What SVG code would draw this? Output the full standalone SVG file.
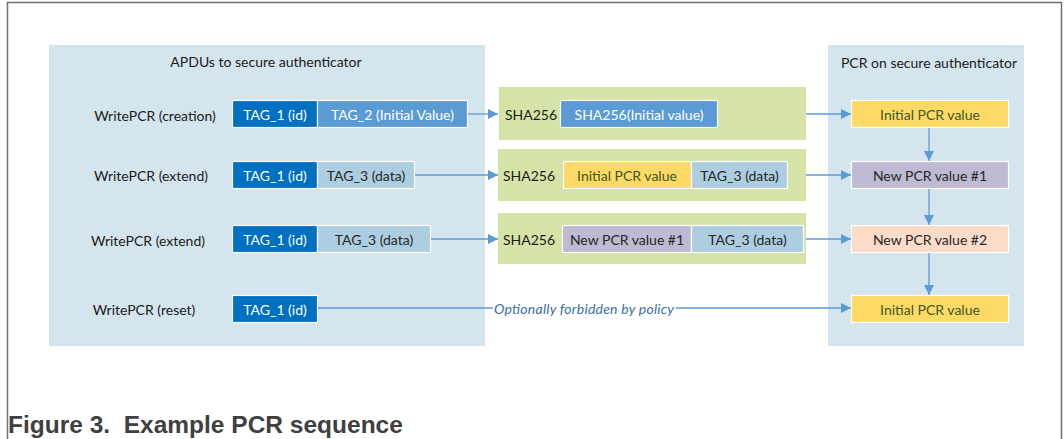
<svg xmlns="http://www.w3.org/2000/svg" width="1064" height="439" viewBox="0 0 1064 439">
  <style>
    text { font-family: Lato, "Open Sans", "Liberation Sans", sans-serif; font-size: 14px; dominant-baseline: central; }
    .panel { fill: #d5e5ee; }
    .hash { fill: #d6e3a6; }
    .cell { stroke: #ffffff; stroke-width: 1.2; }
    .id { fill: #0070c0; }
    .init { fill: #5b9bd5; }
    .data { fill: #adcde0; }
    .yellow { fill: #ffd966; }
    .purple { fill: #bfbad3; }
    .peach { fill: #fddbc9; }
    .w { fill: #ffffff; text-anchor: middle; }
    .d { fill: #262626; text-anchor: middle; }
    .g { fill: #3b5a1e; text-anchor: middle; }
    .lbl { fill: #1a1a1a; text-anchor: middle; }
    .conn { stroke: #5b9bd5; stroke-width: 1.3; fill: none; }
    .note { fill: #3b6ea5; font-style: italic; text-anchor: middle; }
    .cap { font-family: "Liberation Sans", Arial, sans-serif; font-weight: bold; font-size: 24.5px; fill: #404040; dominant-baseline: auto; }
  </style>
  <defs>
    <marker id="arr" viewBox="0 0 10 10" refX="10" refY="5" markerWidth="10" markerHeight="10" markerUnits="userSpaceOnUse" orient="auto">
      <path d="M0,0 L10,5 L0,10 z" fill="#5b9bd5"/>
    </marker>
  </defs>

  <!-- figure frame -->
  <path d="M7.5,439 V2.5 H1061.5 V439" fill="none" stroke="#707070" stroke-width="1.5"/>

  <!-- APDU panel -->
  <g id="apdu-panel">
    <rect class="panel" x="49" y="45" width="436" height="301"/>
    <text class="lbl" x="266" y="61">APDUs to secure authenticator</text>
  </g>

  <!-- PCR panel -->
  <g id="pcr-panel">
    <rect class="panel" x="828" y="45" width="196" height="301"/>
    <text class="lbl" x="929" y="62">PCR on secure authenticator</text>
  </g>

  <!-- APDU commands -->
  <g id="cmd-creation">
    <text class="lbl" x="155" y="115">WritePCR (creation)</text>
    <rect class="cell id" x="232.5" y="100.5" width="85" height="27"/>
    <text class="w" x="275" y="114">TAG_1 (id)</text>
    <rect class="cell init" x="317.5" y="100.5" width="150" height="27"/>
    <text class="w" x="392.5" y="114">TAG_2 (Initial Value)</text>
  </g>
  <g id="cmd-extend-1">
    <text class="lbl" x="151" y="175">WritePCR (extend)</text>
    <rect class="cell id" x="232.5" y="161.5" width="85" height="27"/>
    <text class="w" x="275" y="175">TAG_1 (id)</text>
    <rect class="cell data" x="317.5" y="161.5" width="97" height="27"/>
    <text class="d" x="366" y="175">TAG_3 (data)</text>
  </g>
  <g id="cmd-extend-2">
    <text class="lbl" x="148" y="240">WritePCR (extend)</text>
    <rect class="cell id" x="232.5" y="225.5" width="85" height="27"/>
    <text class="w" x="275" y="239">TAG_1 (id)</text>
    <rect class="cell data" x="317.5" y="225.5" width="113" height="27"/>
    <text class="d" x="374" y="239">TAG_3 (data)</text>
  </g>
  <g id="cmd-reset">
    <text class="lbl" x="144" y="309">WritePCR (reset)</text>
    <rect class="cell id" x="232.5" y="295.5" width="85" height="27"/>
    <text class="w" x="275" y="309">TAG_1 (id)</text>
  </g>

  <!-- hash stages -->
  <g id="hash-1">
    <rect class="hash" x="499" y="87" width="307" height="53"/>
    <text class="lbl" x="531" y="114">SHA256</text>
    <rect class="cell init" x="560.5" y="100.5" width="157" height="27"/>
    <text class="w" x="639" y="114">SHA256(Initial value)</text>
  </g>
  <g id="hash-2">
    <rect class="hash" x="498" y="149" width="308" height="52"/>
    <text class="lbl" x="529" y="175">SHA256</text>
    <rect class="cell yellow" x="563.5" y="161.5" width="128" height="27"/>
    <text class="g" x="627" y="175">Initial PCR value</text>
    <rect class="cell data" x="691.5" y="161.5" width="96" height="27"/>
    <text class="d" x="739.5" y="175">TAG_3 (data)</text>
  </g>
  <g id="hash-3">
    <rect class="hash" x="498" y="213" width="308" height="51"/>
    <text class="lbl" x="529" y="239">SHA256</text>
    <rect class="cell purple" x="562.5" y="225.5" width="129" height="27"/>
    <text class="d" x="627" y="239">New PCR value #1</text>
    <rect class="cell data" x="691.5" y="225.5" width="112" height="27"/>
    <text class="d" x="747.5" y="239">TAG_3 (data)</text>
  </g>

  <!-- PCR values -->
  <g id="pcr-initial">
    <rect class="cell yellow" x="851.5" y="100.5" width="157" height="27"/>
    <text class="g" x="930" y="114">Initial PCR value</text>
  </g>
  <g id="pcr-new-1">
    <rect class="cell purple" x="851.5" y="161.5" width="157" height="27"/>
    <text class="d" x="930" y="175">New PCR value #1</text>
  </g>
  <g id="pcr-new-2">
    <rect class="cell peach" x="851.5" y="225.5" width="157" height="27"/>
    <text class="d" x="930" y="239">New PCR value #2</text>
  </g>
  <g id="pcr-reset">
    <rect class="cell yellow" x="851.5" y="295.5" width="157" height="27"/>
    <text class="g" x="930" y="309">Initial PCR value</text>
  </g>

  <!-- connectors -->
  <g id="connectors">
    <path class="conn" d="M468,114 H498" marker-end="url(#arr)"/>
    <path class="conn" d="M415,175 H498" marker-end="url(#arr)"/>
    <path class="conn" d="M431,239 H498" marker-end="url(#arr)"/>
    <path class="conn" d="M806,114 H851" marker-end="url(#arr)"/>
    <path class="conn" d="M806,175 H851" marker-end="url(#arr)"/>
    <path class="conn" d="M806,239 H851" marker-end="url(#arr)"/>
    <path class="conn" d="M929,128 V161" marker-end="url(#arr)"/>
    <path class="conn" d="M929,189 V225" marker-end="url(#arr)"/>
    <path class="conn" d="M929,253 V295" marker-end="url(#arr)"/>
    <path class="conn" d="M318,308 H493"/>
    <path class="conn" d="M676,308 H851" marker-end="url(#arr)"/>
    <text class="note" x="584" y="308" textLength="180" lengthAdjust="spacing">Optionally forbidden by policy</text>
  </g>

  <text class="cap" x="8" y="433" xml:space="preserve">Figure 3.  Example PCR sequence</text>
</svg>
